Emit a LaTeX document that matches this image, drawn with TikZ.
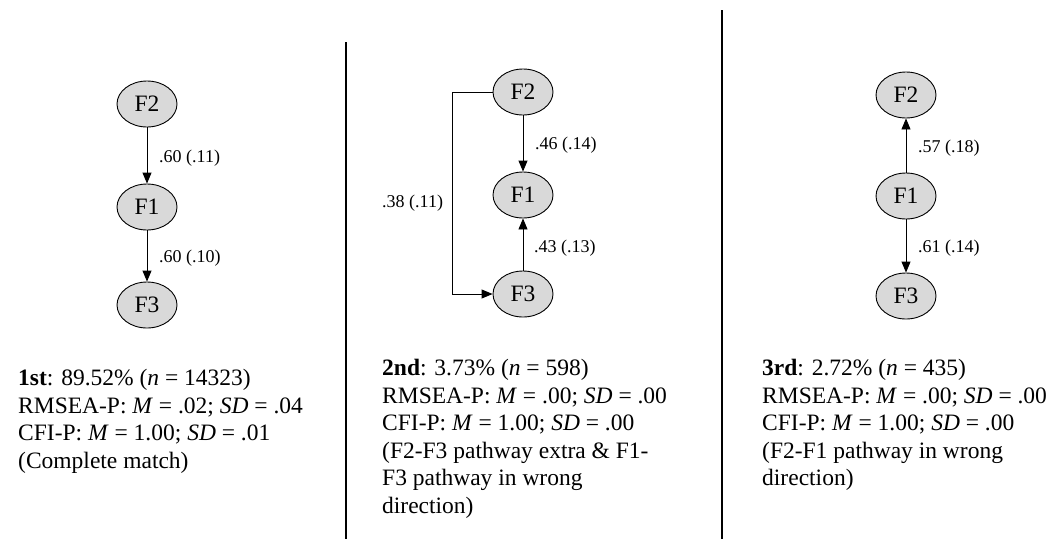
\documentclass[tikz,border=0pt]{standalone}
\usepackage{fontspec}
\setmainfont{Liberation Serif}
\usetikzlibrary{arrows.meta,shapes.geometric}
\definecolor{nodegray}{HTML}{D9D9D9}
\begin{document}
\begin{tikzpicture}[x=1pt,y=-1pt,
  factor/.style={ellipse, draw, fill=nodegray, minimum width=60pt, minimum height=46pt,
    inner sep=0pt, font=\fontsize{23.5}{26}\selectfont, line width=0.9pt},
  pathway/.style={line width=0.9pt, -{Triangle[length=11pt,width=9pt]}},
  coef/.style={font=\fontsize{18}{20}\selectfont, anchor=west, inner sep=0pt},
  summary/.style={font=\fontsize{23.5}{27.6}\selectfont, align=left, anchor=north west, inner sep=0pt},
  divider/.style={line width=1.2pt}]
\useasboundingbox (0,0) rectangle (1059,539);

% column separators
\draw[divider] (346,42) -- (346,539);
\draw[divider] (722,10) -- (722,539);

% ---- first model: F2 -> F1 -> F3
\node[factor] (a2) at (147,104) {F2};
\node[factor] (a1) at (147,207) {F1};
\node[factor] (a3) at (147,305) {F3};
\draw[pathway] (a2) -- (a1);
\draw[pathway] (a1) -- (a3);
\node[coef] (la21) at (159,158) {.60 (.11)};
\node[coef] (la13) at (159,258) {.60 (.10)};
\node[summary] (sa) at (18,369) {\textbf{1st}: 89.52\% (\textit{n} = 14323)\\
RMSEA-P: \textit{M} = .02; \textit{SD} = .04\\
CFI-P: \textit{M} = 1.00; \textit{SD} = .01\\
(Complete match)};

% ---- second model: F2 -> F1, F3 -> F1, F2 -> F3
\node[factor] (b2) at (523,92) {F2};
\node[factor] (b1) at (523,195) {F1};
\node[factor] (b3) at (523,294) {F3};
\draw[pathway] (b2) -- (b1);
\draw[pathway] (b3) -- (b1);
\draw[pathway] (b2.west) -- ++(-40,0) |- (b3.west);
\node[coef] (lb21) at (535,145) {.46 (.14)};
\node[coef] (lb31) at (534,248) {.43 (.13)};
\node[coef] (lb23) at (382,203) {.38 (.11)};
\node[summary] (sb) at (382,359) {\textbf{2nd}: 3.73\% (\textit{n} = 598)\\
RMSEA-P: \textit{M} = .00; \textit{SD} = .00\\
CFI-P: \textit{M} = 1.00; \textit{SD} = .00\\
(F2-F3 pathway extra \& F1-\\
F3 pathway in wrong\\
direction)};

% ---- third model: F1 -> F2, F1 -> F3
\node[factor] (c2) at (906,95) {F2};
\node[factor] (c1) at (906,196) {F1};
\node[factor] (c3) at (906,296) {F3};
\draw[pathway] (c1) -- (c2);
\draw[pathway] (c1) -- (c3);
\node[coef] (lc12) at (918,148) {.57 (.18)};
\node[coef] (lc13) at (918,248) {.61 (.14)};
\node[summary] (sc) at (762,359) {\textbf{3rd}: 2.72\% (\textit{n} = 435)\\
RMSEA-P: \textit{M} = .00; \textit{SD} = .00\\
CFI-P: \textit{M} = 1.00; \textit{SD} = .00\\
(F2-F1 pathway in wrong\\
direction)};
\end{tikzpicture}
\end{document}
